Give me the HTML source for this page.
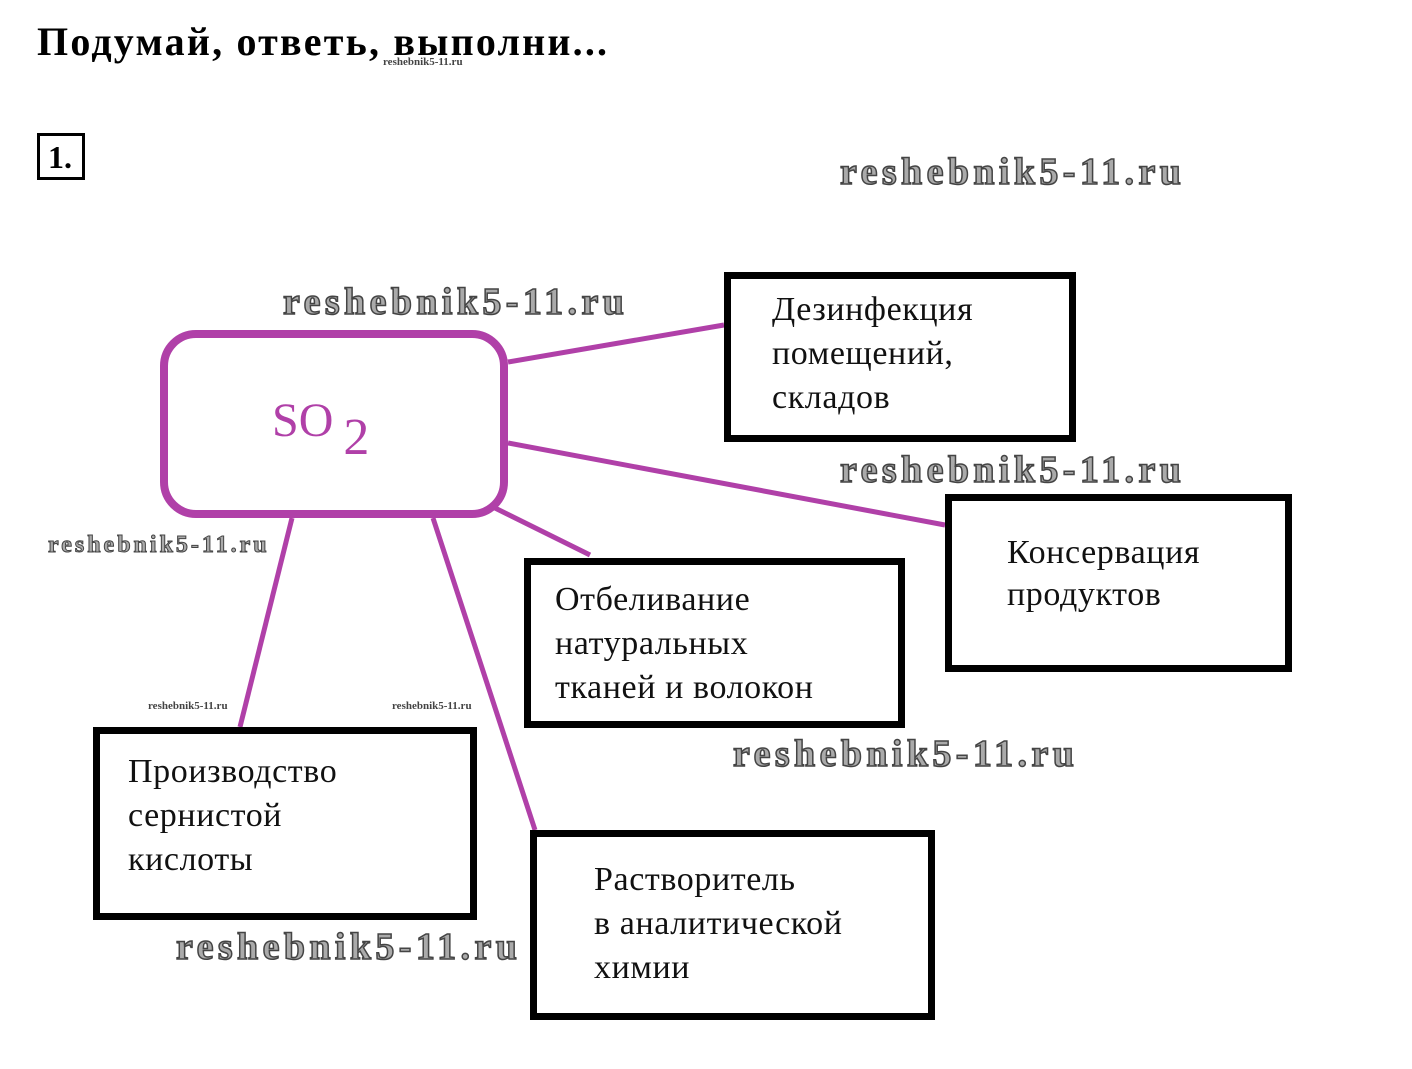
<!DOCTYPE html>
<html><head><meta charset="utf-8"><style>
body{margin:0;width:1412px;height:1069px;background:#fff;position:relative;overflow:hidden;font-family:"Liberation Serif",serif}
.a{position:absolute}
.box{position:absolute;border:7px solid #000;box-sizing:border-box;background:#fff}
.t{position:absolute;font-size:34px;letter-spacing:0.6px;line-height:44px;color:#111;white-space:nowrap}
.wm{position:absolute;font-weight:bold;color:#aaa;-webkit-text-stroke:1.5px #444;font-size:38px;letter-spacing:4.4px;white-space:nowrap}
.ws{position:absolute;font-weight:bold;color:#444;font-size:11px;white-space:nowrap}
</style></head><body>
<div class="a" style="left:37px;top:18px;font-size:40px;letter-spacing:2.2px;font-weight:bold;white-space:nowrap">Подумай, ответь, выполни...</div>
<div class="ws" style="left:383px;top:56px">reshebnik5-11.ru</div>
<div class="a" style="left:37px;top:133px;width:48px;height:47px;border:3px solid #000;box-sizing:border-box;font-size:32px;font-weight:bold;line-height:42px;padding-left:8px">1.</div>
<svg class="a" style="left:0;top:0" width="1412" height="1069">
<g stroke="#b040a8" stroke-width="5">
<line x1="508" y1="362" x2="724" y2="325"/>
<line x1="508" y1="443" x2="945" y2="525"/>
<line x1="495" y1="508" x2="590" y2="555"/>
<line x1="292" y1="518" x2="240" y2="727"/>
<line x1="433" y1="518" x2="535" y2="830"/>
</g>
<rect x="164" y="334" width="340" height="180" rx="32" fill="#fff" stroke="#b040a8" stroke-width="8"/>
</svg>
<div class="a" style="left:272px;top:390px;font-size:48px;color:#b040a8">SO<span style="font-size:52px;position:relative;top:18px;margin-left:10px">2</span></div>
<div class="box" style="left:724px;top:272px;width:352px;height:170px"></div>
<div class="t" style="left:772px;top:288px">Дезинфекция<br>помещений,<br>складов</div>
<div class="box" style="left:945px;top:494px;width:347px;height:178px"></div>
<div class="t" style="left:1007px;top:532px;line-height:42px">Консервация<br>продуктов</div>
<div class="box" style="left:524px;top:558px;width:381px;height:170px"></div>
<div class="t" style="left:555px;top:578px">Отбеливание<br>натуральных<br>тканей и волокон</div>
<div class="box" style="left:93px;top:727px;width:384px;height:193px"></div>
<div class="t" style="left:128px;top:750px">Производство<br>сернистой<br>кислоты</div>
<div class="box" style="left:530px;top:830px;width:405px;height:190px"></div>
<div class="t" style="left:594px;top:858px">Растворитель<br>в аналитической<br>химии</div>
<div class="wm" style="left:840px;top:150px">reshebnik5-11.ru</div>
<div class="wm" style="left:283px;top:280px">reshebnik5-11.ru</div>
<div class="wm" style="left:840px;top:448px">reshebnik5-11.ru</div>
<div class="wm" style="left:48px;top:532px;font-size:24px;letter-spacing:3px;-webkit-text-stroke:1px #444">reshebnik5-11.ru</div>
<div class="wm" style="left:733px;top:732px">reshebnik5-11.ru</div>
<div class="wm" style="left:176px;top:925px">reshebnik5-11.ru</div>
<div class="ws" style="left:148px;top:700px">reshebnik5-11.ru</div>
<div class="ws" style="left:392px;top:700px">reshebnik5-11.ru</div>
</body></html>
